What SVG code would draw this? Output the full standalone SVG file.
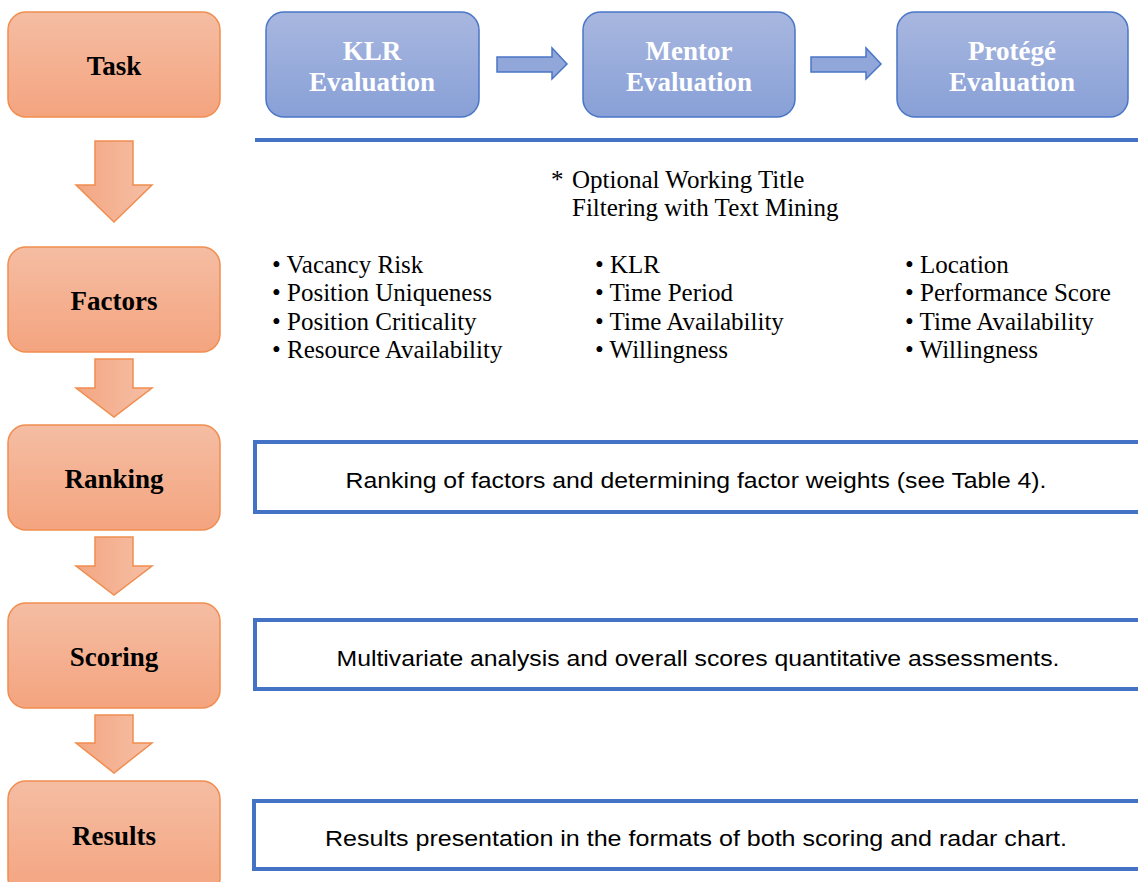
<svg xmlns="http://www.w3.org/2000/svg" width="1138" height="882" viewBox="0 0 1138 882">
<defs>
<linearGradient id="og" x1="0" y1="0" x2="0" y2="1"><stop offset="0" stop-color="#F5BDA3"/><stop offset="1" stop-color="#F4A47F"/></linearGradient>
<linearGradient id="oa" x1="0" y1="0" x2="1" y2="0"><stop offset="0" stop-color="#F3A682"/><stop offset="1" stop-color="#F6BFA5"/></linearGradient>
<linearGradient id="bg" x1="0" y1="0" x2="0" y2="1"><stop offset="0" stop-color="#A8B7DF"/><stop offset="1" stop-color="#88A0D7"/></linearGradient>
<style>
.ob{fill:url(#og);stroke:#F08D4F;stroke-width:1.5}
.oarr{fill:url(#oa);stroke:#F08D4F;stroke-width:1.5}
.bb{fill:url(#bg);stroke:#4A76C6;stroke-width:1.5}
.barr{fill:#91A7DA;stroke:#4A76C6;stroke-width:1.5}
.ol{font-family:"Liberation Serif",serif;font-weight:bold;font-size:27px;fill:#000;text-anchor:middle}
.bl{font-family:"Liberation Serif",serif;font-weight:bold;font-size:27px;fill:#fff;text-anchor:middle}
.tx{font-family:"Liberation Serif",serif;font-size:25px;fill:#000}
.rb{fill:#fff;stroke:#4472C4;stroke-width:4}
.rt{font-family:"Liberation Sans",sans-serif;font-size:22px;fill:#000;text-anchor:middle}
</style>
</defs>
<rect width="1138" height="882" fill="#fff"/>

<g id="task"><rect class="ob" x="8" y="12" width="212" height="105" rx="18"/><text class="ol" x="114" y="75">Task</text></g>
<g id="factors"><rect class="ob" x="8" y="247" width="212" height="105" rx="18"/><text class="ol" x="114" y="310">Factors</text></g>
<g id="ranking"><rect class="ob" x="8" y="425" width="212" height="105" rx="18"/><text class="ol" x="114" y="488">Ranking</text></g>
<g id="scoring"><rect class="ob" x="8" y="603" width="212" height="105" rx="18"/><text class="ol" x="114" y="666">Scoring</text></g>
<g id="results"><rect class="ob" x="8" y="781" width="212" height="115" rx="18"/><text class="ol" x="114" y="845">Results</text></g>

<g id="klr"><rect class="bb" x="266" y="12" width="213" height="105" rx="18"/><text class="bl" x="372" y="60">KLR</text><text class="bl" x="372" y="91">Evaluation</text></g>
<g id="mentor"><rect class="bb" x="583" y="12" width="212" height="105" rx="18"/><text class="bl" x="689" y="60">Mentor</text><text class="bl" x="689" y="91">Evaluation</text></g>
<g id="protege"><rect class="bb" x="897" y="12" width="231" height="105" rx="18"/><text class="bl" x="1012" y="60">Protégé</text><text class="bl" x="1012" y="91">Evaluation</text></g>

<g id="connectors">
<path class="oarr" d="M95,141 H133 V185 H152 L114,222 L76,185 H95 Z"/>
<path class="oarr" d="M95,359 H133 V388 H152 L114,417 L76,388 H95 Z"/>
<path class="oarr" d="M95,537 H133 V566 H152 L114,595 L76,566 H95 Z"/>
<path class="oarr" d="M95,715 H133 V743 H152 L114,773 L76,743 H95 Z"/>
<path class="barr" d="M497,57 H552 V48 L567,64 L552,79 V72 H497 Z"/>
<path class="barr" d="M811,57 H866 V48 L881,64 L866,79 V72 H811 Z"/>
</g>

<line x1="255" y1="140" x2="1138" y2="140" stroke="#4472C4" stroke-width="4"/>

<g id="note">
<text class="tx" x="551" y="188">*</text>
<text class="tx" x="572" y="188">Optional Working Title</text>
<text class="tx" x="572" y="216">Filtering with Text Mining</text>
</g>

<g id="factor-lists">
<text class="tx" x="272" y="273">• Vacancy Risk</text>
<text class="tx" x="272" y="301">• Position Uniqueness</text>
<text class="tx" x="272" y="330">• Position Criticality</text>
<text class="tx" x="272" y="358">• Resource Availability</text>
<text class="tx" x="595" y="273">• KLR</text>
<text class="tx" x="595" y="301">• Time Period</text>
<text class="tx" x="595" y="330">• Time Availability</text>
<text class="tx" x="595" y="358">• Willingness</text>
<text class="tx" x="905" y="273">• Location</text>
<text class="tx" x="905" y="301">• Performance Score</text>
<text class="tx" x="905" y="330">• Time Availability</text>
<text class="tx" x="905" y="358">• Willingness</text>
</g>

<g id="ranking-desc"><rect class="rb" x="255" y="442" width="900" height="70"/><text class="rt" x="696" y="488" textLength="701" lengthAdjust="spacingAndGlyphs">Ranking of factors and determining factor weights (see Table 4).</text></g>
<g id="scoring-desc"><rect class="rb" x="255" y="620" width="900" height="69"/><text class="rt" x="698" y="666" textLength="723" lengthAdjust="spacingAndGlyphs">Multivariate analysis and overall scores quantitative assessments.</text></g>
<g id="results-desc"><rect class="rb" x="254" y="801" width="900" height="68"/><text class="rt" x="696" y="846" textLength="742" lengthAdjust="spacingAndGlyphs">Results presentation in the formats of both scoring and radar chart.</text></g>
</svg>
